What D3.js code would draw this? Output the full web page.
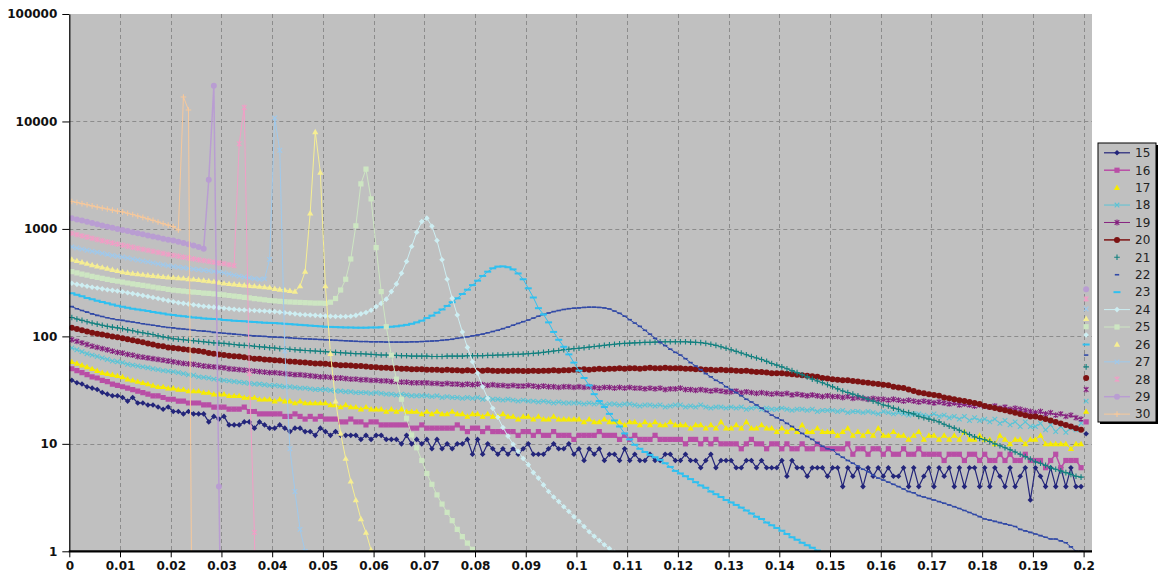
<!DOCTYPE html>
<html>
<head>
<meta charset="utf-8">
<script src="https://cdn.jsdelivr.net/npm/d3@7"></script>
<style>
  html, body { margin: 0; padding: 0; background: #ffffff; }
  svg { display: block; }
  .tick text { font-family: "DejaVu Sans", Verdana, sans-serif; font-weight: bold; font-size: 12px; fill: #111; }
</style>
</head>
<body>
<svg id="chart" width="1163" height="577"></svg>
<script>
// Histogram of counts per 0.001-wide bin (bins 0 .. 0.199), one series per run 15..30.
const binWidth = 0.001;
const seriesNames = ["15","16","17","18","19","20","21","22","23","24","25","26","27","28","29","30"];
const tickValues = [0,0.01,0.02,0.03,0.04,0.05,0.06,0.07,0.08,0.09,0.1,0.11,0.12,0.13,0.14,0.15,0.16,0.17,0.18,0.19,0.2];
const tickLabels = ["0","0.01","0.02","0.03","0.04","0.05","0.06","0.07","0.08","0.09","0.1","0.11","0.12","0.13","0.14","0.15","0.16","0.17","0.18","0.19","0.2"];
const yTickValues = [1,10,100,1000,10000,100000];

const s15 = [
  39,37,36,34,33,32,30,29,28,28, 27,25,27,24,24,23,23,22,21,22,
  20,20,19,20,19,19,19,16,18,17, 18,15,15,15,16,16,14,16,15,14,
  14,15,14,13,14,14,13,13,12,14, 13,12,13,12,12,12,12,11,12,11,
  12,12,11,11,11,10,12,10,11,10, 11,9,11,9,10,9,10,10,11,8,
  11,8,10,9,8,9,8,9,8,9, 10,8,8,8,9,10,9,9,10,8,
  9,7,9,8,9,7,8,8,7,9, 7,8,7,7,8,7,7,8,8,7,
  7,8,7,7,6,7,8,6,7,7, 7,6,6,7,7,6,7,6,6,6,
  7,5,7,6,6,5,6,6,6,5, 6,6,4,6,5,6,4,6,5,6,
  5,6,5,5,6,4,6,4,5,6, 4,6,5,6,4,6,4,6,6,4,
  6,4,6,5,4,6,4,5,6,3, 6,5,4,6,4,6,4,6,4,4
];
const s16 = [
  50,48,46,44,42,41,39,38,36,35, 34,33,32,31,30,29,28,28,27,26,
  26,25,25,24,24,24,23,23,22,22, 22,21,21,21,22,20,20,19,19,19,
  19,19,18,18,19,18,17,18,17,18, 17,17,17,16,16,17,16,16,15,16,
  16,15,15,15,15,15,15,14,14,15, 14,14,14,14,14,14,15,14,13,14,
  14,13,14,13,13,13,13,13,12,13, 13,12,13,12,12,13,12,12,12,11,
  12,12,12,12,13,12,12,12,11,12, 11,12,11,11,11,12,11,11,11,11,
  11,10,11,11,10,11,10,11,10,10, 10,10,9,10,11,10,10,9,10,10,
  9,10,9,9,10,9,9,10,9,9, 9,9,9,10,8,9,9,8,9,9,
  8,9,8,8,9,8,8,9,8,8, 8,8,7,8,8,8,7,8,8,7,
  8,7,7,8,7,8,7,7,8,7, 7,7,6,7,8,6,7,7,7,6
];
const s17 = [
  58,56,54,52,50,48,46,45,44,43, 42,40,39,38,37,36,35,34,34,33,
  33,32,32,31,31,31,30,30,29,29, 29,28,28,28,27,27,27,26,26,26,
  25,26,25,25,24,25,24,24,24,24, 24,23,23,22,23,22,22,21,22,21,
  21,21,20,21,20,21,20,20,20,19, 20,19,20,19,19,20,19,19,18,19,
  19,18,19,18,18,19,18,18,17,18, 18,17,18,17,17,18,17,17,17,17,
  17,16,17,16,16,17,16,16,16,15, 16,16,15,16,15,16,15,15,16,15,
  15,15,14,15,15,14,15,14,16,14, 14,15,14,16,14,14,15,14,14,13,
  14,13,14,13,15,13,13,14,13,13, 13,12,13,14,12,13,12,13,12,14,
  12,12,13,12,12,11,12,13,11,12, 12,11,12,11,12,11,13,11,11,12,
  11,11,10,12,11,10,11,11,10,11, 11,12,10,10,10,10,10,9,10,10
];
const s18 = [
  78,75,72,69,67,65,63,61,59,58, 57,55,54,53,52,51,50,49,48,47.5,
  47,46,45,44,43.5,42,41.5,41,40,39.5, 39,38.5,38,37.5,37,36.5,36,36,35.5,35,
  35,34.5,34,34,33.5,33,33,32.5,32,32, 32,31.5,31,31,30.5,30.5,30,30,30,29.5,
  30,29.5,29,29,28.5,29,28.5,28,28,28, 28,27.5,28,27,27.5,27,27,26.5,27,26.5,
  27,26,26.5,26,26,25.5,26,25.5,25,25.5, 25,25,24.5,25,24.5,24,24.5,24,24,24,
  24,23.5,24,23.5,24,23,23.5,23.5,23,23.5, 23.5,23,22.5,23,23,22.5,23,22,22.5,23,
  23,22,22.5,22,23,22,21.5,22,22,21.5, 22,21.5,22,21,21.5,22,21,21.5,21,21,
  21.5,21,20.5,21,21,20.5,21,20,20.5,20.5, 20.5,20,20.5,19.5,20,20,19.5,20,19.5,19,
  20,19.5,19,19.5,19,18.5,19,19,18.5,18, 19,18,18.5,17.5,18,17,18,16.5,17.5,16.5,
  17,16,17,15.5,16.5,15,16,14.5,16,14.5, 14.5,15.5,13.5,15,13,14.5,12.8,14,13.5,15.6
];
const s19 = [
  93,90,87,84,81,79,77,75,73,71, 70,68,67,65,64,63,62,61,60,59,
  58,57,56,55.5,55,54,53,52.5,52,51.5, 51,50,49.5,49,48.5,48,47.5,47,46.5,46,
  46,45.5,45,44.5,44,44,43.5,43,42.5,42, 42,41.5,41,41,40.5,40,40,39.5,39.5,39,
  39,38.5,38.5,38,38,37.5,37.5,37,37,37, 37,36.5,36.5,36,36.5,36,36,35.5,36,35.5,
  36,35.5,35,35.5,35,35,34.5,35,34.5,34.5, 35,34.5,34,34.5,34,34,33.5,34,34,33.5,
  34,33.5,34,33.5,33,33.5,33.5,33,33.5,33, 33.5,33,33,32.5,33,32.5,33,32,32.5,32.5,
  33,32,32,31.5,32,31.5,31,31.5,31,30.5, 30.5,31,30,30.5,30,29.5,30,29.5,29,29.5,
  29,29.5,28.5,29,28.5,28,28.5,28,27.5,28, 27.5,27.5,27,27.5,26.5,27,26.5,26,26.5,26,
  26,25.5,26,25.5,25,25.5,25,24.5,25,24.5, 24,24.5,24,23.5,24,23,23.5,23,22.5,23,
  22.5,22,22.5,21.5,22,21,21.5,21,20.5,20, 19.5,20,19,19.5,18.5,19,18,18.5,17.5,17
];
const s20 = [
  120,117,114,111,108,106,104,102,100,98, 96,94,92,90,88,86,84,82,81,79,
  78,77,76,75,74,73,72,70,69,68, 67,66,65.5,65,64,63,62,62,61,60.5,
  60,59.5,59,58.5,58,57.5,57,56.5,56,56, 55.5,55,54.5,54,54,53.5,53,53,52.5,52,
  51.5,51,51,50.5,50.5,50,50,49.5,49.5,49.5, 49,49,49,48.5,49,48.5,48.5,48,48.5,48,
  48,48,48.5,48,47.5,48,47.5,48,48,47.5, 47.5,48,47.5,48,48,48.5,48,48.5,48.5,49,
  49,49.5,49,49.5,50,49.5,50,50,50.5,50, 50.5,50.5,50,50.5,51,50.5,50.5,51,50.5,50.5,
  50.5,50,50,49.5,49.5,49,49,48.5,49,48.5, 48.5,48,47.5,48,47,46.5,46.5,46,45.5,45.5,
  45.5,45,44.5,44,43.5,43,42.5,42,41,40.5, 40,39.5,39,39,38.5,38,37.5,37,36.5,36,
  35.5,35,34,33.5,33,32,31,30,29.5,29, 28.5,28,27,26.5,26,25.5,25,24.5,24,23.5,
  22.5,22,21.5,21,20.5,20,19.5,19,18.5,18, 18,17.5,17,16.5,16,15.5,15,14.5,14,13.5
];
const s21 = [
  150,145,141,137,133,130,127,124,122,120, 118,115,113,110,108,106,104,101,99,97,
  95,94,93,92,91,90,89,88,87,86.5, 86,85,84,83,82.5,82,81,80,79.5,78.5,
  78,77,76.5,76,75,74.5,74,73.5,73,72.5, 72,71.5,71,70.5,70,69.5,69,69,68.5,68,
  67.5,67,67,66.5,66.5,66,66,65.5,65.5,65.5, 65.5,65,65,65,65.5,65.5,65.5,65.5,66,66,
  66,66,66.5,66.5,67,67,67.5,68,68,68.5, 69,69.5,70,71,72,73,74,75,76,77,
  77.5,78.5,79.5,80.5,81.5,82.5,83.5,84.5,85.5,86, 86.5,87,87.5,88,88,88.5,89,89,89,89,
  89,89,88.5,88,87.5,86,84.5,82.5,80,77.5, 75,72.5,70,67.5,65,63,61,58.5,56,54,
  52,50,48,46,44,42,40,38.5,37,35.5, 34,32.5,31,30,29,28,27,26,25,24,
  23,22.5,21.5,21,20,19.5,19,18,17.5,17, 16.6,16,15.2,14.6,14,13.4,12.8,12.2,11.6,11.2,
  10.9,10.5,10,9.6,9.2,8.8,8.4,8,7.6,7.2, 6.8,6.6,6.3,6,5.8,5.6,5.4,5.2,5,4.9
];
const s22 = [
  189,181,174,168,162,157,153,149,146,143, 141,138,136,134,131,129,127,125,123,121,
  120,118,117,116,114,113,112,111,109,108, 107,106,105,104,103,102,101,100.5,100,99,
  98.5,98,97.5,97,96,95.5,95,94.5,94,93.5, 93,92.5,92,91.5,91,90.5,90,89.5,89.5,89,
  89,89,88.5,88.5,88.5,88.5,88.5,89,89,89.5, 90,90.5,91,92,93,94,96,97.5,99,101,
  103,105,108,111,114,118,122,127,132,137, 142,148,154,160,165,170,174,178,181,183,
  184,186,187,187,186,184,180,172,164,154, 143,133,124,114,105,96,88,82,76,71,
  67,62,57,53,49,45,42,39,37,34, 32,30,28,26,24.5,23,21.5,20,18.5,17.5,
  16.6,15.5,14.5,13.5,12.5,11.7,11,10.2,9.5,9, 8.8,8,7.5,7,6.6,6.2,5.8,5.5,5.1,4.8,
  4.6,4.4,4.2,4,3.8,3.6,3.5,3.3,3.2,3.1, 3,2.9,2.8,2.7,2.6,2.5,2.4,2.3,2.2,2.1,
  2,1.95,1.9,1.85,1.8,1.75,1.7,1.6,1.55,1.5, 1.45,1.4,1.35,1.3,1.3,1.25,1.2,1.1,1,1
];
const s23 = [
  252,244,236,228,221,215,209,203,198,193, 189,185,181,178,175,172,169,166,163,160,
  158,156,154,152,150,149,147,146,145,144, 142,141,140,139,138,137,136,135,134,133.5,
  133,132,131,130,129,128,127,126,125,124, 123,122.5,122,121.5,121,121,120.5,120.5,120.5,121,
  121,121.5,122,123,124,126,128,131,135,140, 148,156,166,178,192,208,226,248,272,300,
  330,365,400,430,446,448,440,420,385,340, 280,230,183,160,135,110,93,80,68,57,
  48,41,35,29,25,22,19,16.5,14.5,12.5, 11,9.8,9,8.4,7.9,7.5,7.1,6.6,6.1,5.6,
  5.3,5,4.7,4.4,4.1,3.9,3.6,3.4,3.2,3, 2.85,2.7,2.55,2.4,2.25,2.1,2,1.85,1.75,1.65,
  1.55,1.45,1.35,1.28,1.2,1.14,1.08,1.02,0
];
const s24 = [
  312,305,299,293,287,282,277,272,268,264, 260,255,250,245,240,235,230,225,220,215,
  210,206,203,200,197,194,191,189,187,185, 183,181,179,177,176,175,174,173,172,171,
  170,168,166,164,162,160,159,158,157,156, 155,154,153,153,153,154,157,162,167,175,
  189,203,222,261,308,387,498,686,930,1170, 1260,1060,780,516,340,226,158,110,79,58,
  45.6,34,26.6,21.4,17.7,14.2,11.8,9.9,8.5,7.3, 6.4,5.4,4.8,4.15,3.6,3.2,2.9,2.6,2.35,2.1,
  1.9,1.7,1.52,1.38,1.26,1.15,1.06,0.98,0
];
const s25 = [
  400,390,380,371,362,354,346,339,332,326, 320,314,308,303,298,293,288,283,279,274,
  270,267,264,261,258,256,253,251,249,246, 243,240,237,234,231,228,225,222,219,216,
  214,212,210,209,208,207,206,205,204,204, 203,208,225,270,340,525,1070,2630,3600,1900,
  670,261,123,67,40,26,17.3,12.1,9.2,7, 5.3,4.2,3.35,2.75,2.3,1.93,1.6,1.37,1.19,1.04,
  0
];
const s26 = [
  520,505,490,476,463,451,440,429,418,408, 398,392,386,381,376,371,367,363,359,356,
  353,350,347,343,340,336,332,328,324,318, 312,309,306,303,300,297,294,291,288,285,
  278,274,270,266,262,294,402,1400,8000,3360, 294,69,25,12.5,7.3,4.5,3,2,1.5,1.03,
  0
];
const s27 = [
  680,664,649,634,620,606,592,579,566,557, 548,536,525,514,503,493,483,473,464,455,
  447,441,435,429,423,418,413,408,403,398, 390,381,372,364,357,350,345,340,343,520,
  10800,5400,73,9,3.6,1.6,1,0
];
const s28 = [
  910,885,862,840,818,797,777,758,740,722, 706,690,675,660,645,631,618,605,592,580,
  568,557,546,536,526,516,507,498,490,482, 475,465,455,6200,13500,45,1.5,0
];
const s29 = [
  1260,1225,1195,1165,1135,1105,1075,1050,1025,1000, 978,955,932,910,890,870,850,830,810,795,
  780,760,740,720,700,680,655,2870,21500,4, 0
];
const s30 = [
  1800,1760,1720,1680,1640,1600,1565,1530,1495,1465, 1440,1400,1360,1320,1280,1240,1200,1160,1120,1085,
  1050,980,16900,12800,0
];
// Counts beyond 0.2, shown as a lone marker in the last (overflow) bin; run 30 has none.
const overflowCounts = [12.4,16,20,25,32,41,52,67,84,103,123,146,180,223,275,null];

const seriesValues = [s15,s16,s17,s18,s19,s20,s21,s22,s23,s24,s25,s26,s27,s28,s29,s30];

// Drawing styles per run
const styles = [
  { color: "#23257a", marker: "diamond",  width: 1.2, legendLine: true },
  { color: "#b94ea6", marker: "square",   width: 1.5, legendLine: true },
  { color: "#f7ec00", marker: "triangle", width: 1,   legendLine: false },
  { color: "#5cc4d6", marker: "x",        width: 1,   legendLine: true },
  { color: "#85217f", marker: "star",     width: 1,   legendLine: true },
  { color: "#7c1212", marker: "circle",   width: 1.5, legendLine: true },
  { color: "#12807f", marker: "plus",     width: 1,   legendLine: false },
  { color: "#3149a6", marker: "dash",     width: 1,   legendLine: false },
  { color: "#2fc0f0", marker: "longdash", width: 1,   legendLine: false },
  { color: "#cdeef2", marker: "diamond",  width: 1,   legendLine: true },
  { color: "#cde6c2", marker: "square",   width: 1,   legendLine: true },
  { color: "#f6ee92", marker: "triangle", width: 1,   legendLine: false },
  { color: "#9fc9ec", marker: "x",        width: 1,   legendLine: true },
  { color: "#f19ec6", marker: "star",     width: 1,   legendLine: false },
  { color: "#b99dd2", marker: "circle",   width: 1.5, legendLine: true },
  { color: "#f6c89b", marker: "plus",     width: 1,   legendLine: true }
];

const markerPaths = {
  diamond:  "M0,-2.8L2.8,0L0,2.8L-2.8,0Z",
  square:   "M-2.6,-2.6h5.2v5.2h-5.2Z",
  triangle: "M0,-3.1L3.1,2.3H-3.1Z",
  circle:   "M3,0A3,3 0 1 1 -3,0A3,3 0 1 1 3,0Z",
  x:        "M-2.3,-2.3L2.3,2.3M-2.3,2.3L2.3,-2.3",
  star:     "M-2.3,-2.3L2.3,2.3M-2.3,2.3L2.3,-2.3M0,-2.9V2.9",
  plus:     "M-2.8,0H2.8M0,-2.8V2.8",
  dash:     "M-2.2,-0.8h4.4v1.6h-4.4Z",
  longdash: "M-3.5,-1h7v2h-7Z"
};
const strokedMarkers = new Set(["x", "star", "plus"]);

// Layout
const svg = d3.select("#chart");
const plot = { left: 69.3, right: 1092, top: 14, bottom: 551.3 };
const x = d3.scaleLinear().domain([0, 0.2]).range([69.3, 1083.6]);
const y = d3.scaleLog().domain([1, 100000]).range([plot.bottom, plot.top]);
const zeroFloor = 1e-3;   // empty bins are drawn far below the axis so the line runs off the bottom

const binCenter = i => x((i + 0.5) * binWidth);

svg.append("defs").append("clipPath").attr("id", "plotClip")
  .append("rect")
  .attr("x", plot.left).attr("y", plot.top)
  .attr("width", plot.right - plot.left).attr("height", plot.bottom - plot.top);

// Plot background
svg.append("rect")
  .attr("x", plot.left).attr("y", plot.top)
  .attr("width", plot.right - plot.left).attr("height", plot.bottom - plot.top)
  .attr("fill", "#c0c0c0");

// Gridlines
const grid = svg.append("g").attr("stroke", "#8c8c8c").attr("stroke-width", 1).attr("stroke-dasharray", "4,3");
grid.selectAll("line.v").data(tickValues.slice(1)).join("line")
  .attr("x1", d => Math.round(x(d)) + 0.5).attr("x2", d => Math.round(x(d)) + 0.5)
  .attr("y1", plot.top).attr("y2", plot.bottom);
grid.selectAll("line.h").data(yTickValues.slice(1, -1)).join("line")
  .attr("y1", d => Math.round(y(d)) + 0.5).attr("y2", d => Math.round(y(d)) + 0.5)
  .attr("x1", plot.left).attr("x2", plot.right);

// Series lines and markers
const series = svg.append("g").attr("clip-path", "url(#plotClip)");
const lineGen = d3.line()
  .x((d, i) => binCenter(i))
  .y(d => y(Math.max(d, zeroFloor)));

seriesValues.forEach((vals, k) => {
  const st = styles[k];
  const g = series.append("g");
  g.append("path")
    .attr("d", lineGen(vals))
    .attr("fill", "none")
    .attr("stroke", st.color)
    .attr("stroke-width", st.width)
    .attr("stroke-linejoin", "round");
  const pts = vals.map((v, i) => ({ v, i })).filter(p => p.v > 0);
  const stroked = strokedMarkers.has(st.marker);
  g.selectAll("path.m").data(pts).join("path")
    .attr("class", "m")
    .attr("transform", p => `translate(${binCenter(p.i)},${y(p.v)})`)
    .attr("d", markerPaths[st.marker])
    .attr("fill", stroked ? "none" : st.color)
    .attr("stroke", stroked ? st.color : "none")
    .attr("stroke-width", stroked ? 1.1 : 0);
});

// Overflow bin markers (no connecting line)
const overflowBin = 200;
const ov = series.append("g");
overflowCounts.forEach((v, k) => {
  if (v == null) return;
  const st = styles[k];
  const stroked = strokedMarkers.has(st.marker);
  ov.append("path")
    .attr("transform", `translate(${binCenter(overflowBin)},${y(v)})`)
    .attr("d", markerPaths[st.marker])
    .attr("fill", stroked ? "none" : st.color)
    .attr("stroke", stroked ? st.color : "none")
    .attr("stroke-width", stroked ? 1.1 : 0);
});

// Axes
const yAxis = d3.axisLeft(y).tickValues(yTickValues).tickFormat(d3.format("d"))
  .tickSize(7).tickSizeOuter(0).tickPadding(5);
const yg = svg.append("g").attr("transform", `translate(${plot.left},0)`).call(yAxis);
yg.select(".domain").attr("stroke", "#000").attr("stroke-width", 1.2);
yg.selectAll(".tick line").attr("stroke", "#000");

const xAxis = d3.axisBottom(x).tickValues(tickValues).tickFormat((d, i) => tickLabels[i])
  .tickSize(6).tickSizeOuter(0).tickPadding(4);
const xg = svg.append("g").attr("transform", `translate(0,${plot.bottom})`).call(xAxis);
xg.select(".domain").remove();
xg.append("line").attr("x1", plot.left - 0.5).attr("x2", plot.right).attr("y1", 0).attr("y2", 0)
  .attr("stroke", "#000").attr("stroke-width", 2.2);
xg.selectAll(".tick line").attr("stroke", "#000");

// Legend
const legend = svg.append("g").attr("transform", "translate(1098,143)");
const lw = 58, lh = 279;
legend.append("rect").attr("x", 2).attr("y", 2).attr("width", lw).attr("height", lh).attr("fill", "#000");
legend.append("rect").attr("x", 0).attr("y", 0).attr("width", lw).attr("height", lh)
  .attr("fill", "#c0c0c0").attr("stroke", "#000").attr("stroke-width", 1);
seriesNames.forEach((name, k) => {
  const st = styles[k];
  const cy = 9.8 + k * 17.42;
  const row = legend.append("g").attr("transform", `translate(0,${cy})`);
  if (st.legendLine) {
    row.append("line").attr("x1", 6).attr("x2", 32).attr("y1", 0).attr("y2", 0)
      .attr("stroke", st.color).attr("stroke-width", st.width);
  }
  const stroked = strokedMarkers.has(st.marker);
  row.append("path").attr("transform", "translate(19,0)")
    .attr("d", markerPaths[st.marker])
    .attr("fill", stroked ? "none" : st.color)
    .attr("stroke", stroked ? st.color : "none")
    .attr("stroke-width", stroked ? 1.1 : 0);
  row.append("text").attr("x", 37).attr("y", 0).attr("dy", "0.36em")
    .attr("font-family", "DejaVu Sans, Verdana, sans-serif").attr("font-size", 12)
    .attr("fill", "#222").text(name);
});
</script>
</body>
</html>
